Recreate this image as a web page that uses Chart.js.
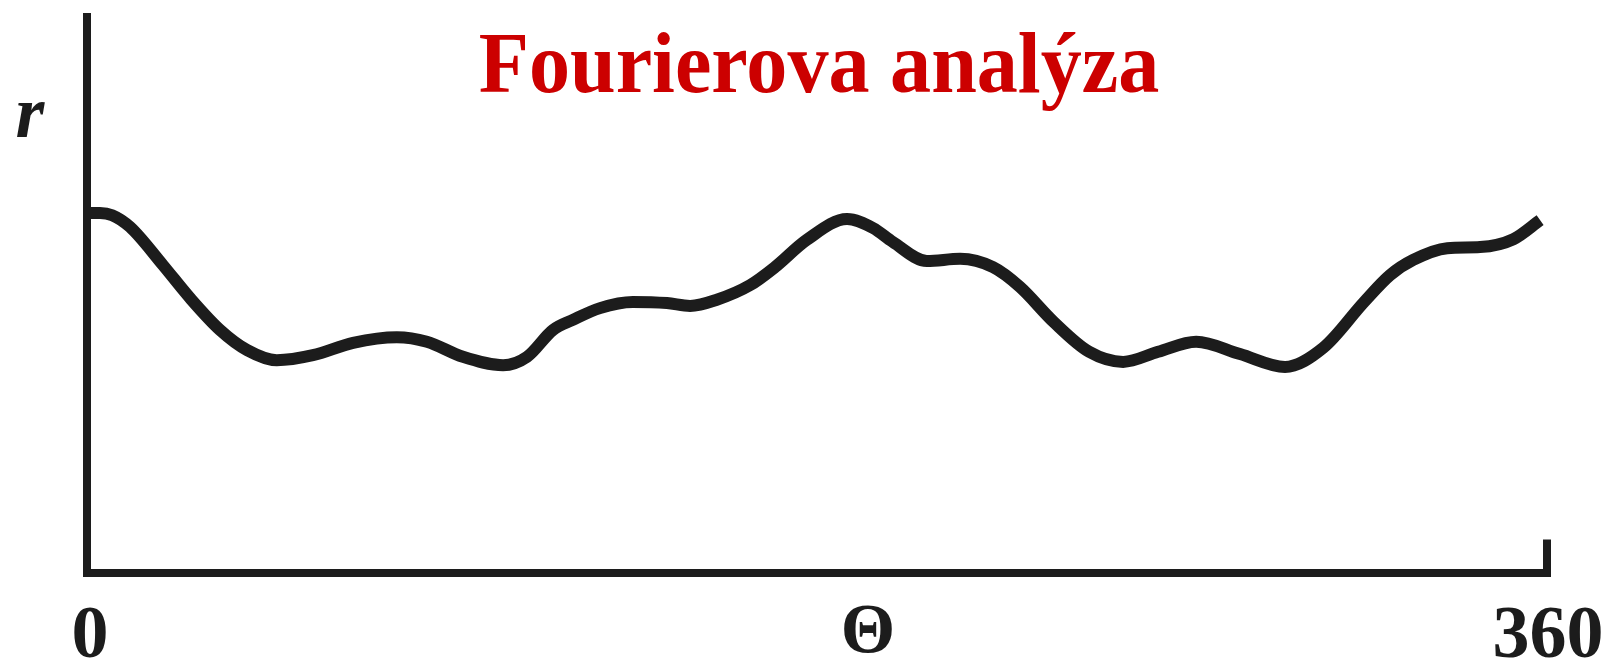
<!DOCTYPE html>
<html>
<head>
<meta charset="utf-8">
<script src="https://cdn.jsdelivr.net/npm/chart.js@4.4.0/dist/chart.umd.min.js"></script>
<style>
  html, body { margin: 0; padding: 0; background: #fff; }
  #wrap { width: 1607px; height: 661px; }
</style>
</head>
<body>
<div id="wrap"><canvas id="myChart" width="1607" height="661"></canvas></div>
<script>
// uhel Theta (stupne) a polomer r (libovolne jednotky, osa 0..10)
var theta = [0, 3.2, 6.2, 10.6, 18.7, 25.4, 32.8, 39.5, 46.8, 55.7, 65.6, 76.4, 83.8, 92.7, 102.6, 108.5,
             114.9, 119.8, 126.5, 134.6, 143.0, 148.7, 155.3, 163.5, 169.6, 177.5, 187.4, 193.8, 198.7,
             207.1, 215.3, 223.4, 230.0, 238.4, 247.1, 255.5, 264.1, 273.5, 284.3, 295.4, 304.8, 314.9,
             321.3, 327.0, 335.4, 343.5, 351.7, 358.3];
var r = [6.43, 6.43, 6.39, 6.18, 5.50, 4.91, 4.34, 3.98, 3.80, 3.89, 4.11, 4.21, 4.13, 3.86, 3.71, 3.86,
         4.34, 4.52, 4.73, 4.84, 4.82, 4.77, 4.88, 5.14, 5.46, 5.95, 6.32, 6.16, 5.91,
         5.57, 5.61, 5.46, 5.11, 4.48, 3.95, 3.77, 3.95, 4.13, 3.91, 3.68, 4.02, 4.84,
         5.32, 5.59, 5.80, 5.82, 5.96, 6.30];
var xTicks = [0, 360];
var xTickLabels = ['0', '360'];
var yMin = 0, yMax = 10;
var titleText = 'Fourierova analýza';
var xTitle = 'Θ';
var yTitle = 'r';

var points = [];
for (var i = 0; i < theta.length; i++) {
    points.push({x: theta[i], y: r[i]});
}

var ink = '#1c1c1c';

// osy, popisky a nadpis kreslime sami
var decor = {
    id: 'decor',
    afterDatasetsDraw: function (chart) {
        var ctx = chart.ctx;
        var sx = chart.scales.x, sy = chart.scales.y;
        var x0 = sx.getPixelForValue(xTicks[0]);
        var x1 = sx.getPixelForValue(xTicks[1]);
        var yb = sy.getPixelForValue(yMin);
        var yt = sy.getPixelForValue(yMax);
        var yTick = sy.getPixelForValue(0.6);

        ctx.save();
        ctx.strokeStyle = ink;
        ctx.lineWidth = 8;
        ctx.lineJoin = 'miter';
        ctx.lineCap = 'butt';
        ctx.beginPath();
        ctx.moveTo(x0, yt);
        ctx.lineTo(x0, yb);
        ctx.lineTo(x1, yb);
        ctx.lineTo(x1, yTick);
        ctx.stroke();

        ctx.fillStyle = ink;
        ctx.textAlign = 'center';
        ctx.textBaseline = 'alphabetic';
        ctx.font = 'bold 74px "Liberation Serif"';
        ctx.fillText(xTickLabels[0], x0 + 3, 657);
        ctx.fillText(xTickLabels[1], x1 + 1, 657);

        ctx.font = 'bold 70px "Liberation Serif"';
        ctx.fillText(xTitle, 868, 652);

        ctx.font = 'italic bold 74px "Liberation Serif"';
        ctx.fillText(yTitle, 30, 137);

        ctx.fillStyle = '#cc0000';
        ctx.font = 'bold 86px "Liberation Serif"';
        ctx.save();
        ctx.translate((x0 + x1) / 2 + 2, 92);
        ctx.scale(0.955, 1);
        ctx.fillText(titleText, 0, 0);
        ctx.restore();
        ctx.restore();
    }
};

var chart1 = new Chart(document.getElementById('myChart').getContext('2d'), {
    type: 'line',
    data: {
        datasets: [{
            label: 'r(Θ)',
            data: points,
            borderColor: ink,
            borderWidth: 12,
            pointRadius: 0,
            cubicInterpolationMode: 'monotone',
            fill: false
        }]
    },
    options: {
        responsive: false,
        animation: false,
        layout: {padding: {left: 87, right: 60, top: 13, bottom: 88}},
        plugins: {
            legend: {display: false},
            title: {display: false},
            tooltip: {enabled: false}
        },
        scales: {
            x: {type: 'linear', min: 0, max: 360, display: false},
            y: {min: yMin, max: yMax, display: false}
        }
    },
    plugins: [decor]
});
</script>
</body>
</html>
